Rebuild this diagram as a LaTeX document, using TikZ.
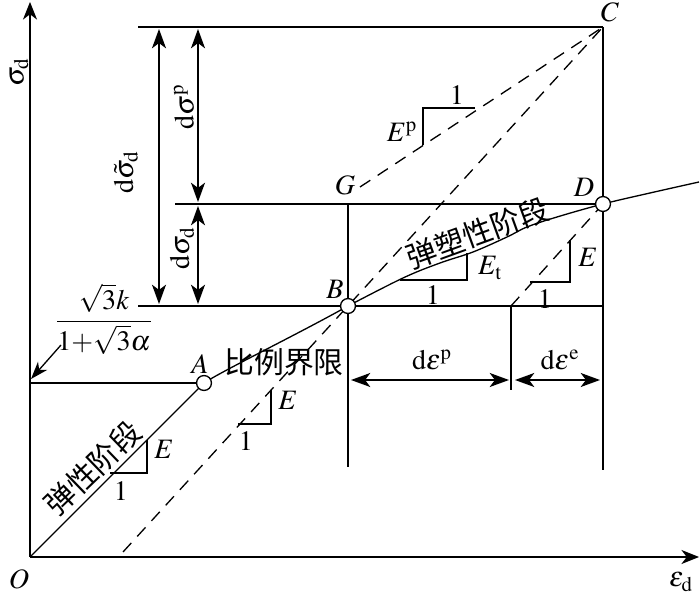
\documentclass[tikz,border=0pt]{standalone}
\usepackage{amsmath,amssymb}
\usepackage{mathptmx}
\usepackage{fontspec}
\setmainfont{Liberation Serif}
\newfontfamily\cjk{Noto Sans CJK SC}
\usetikzlibrary{arrows.meta,positioning}

\begin{document}
\begin{tikzpicture}[x=0.02cm, y=-0.02cm, line width=0.75pt,
	>={Stealth[length=11pt,width=8pt,inset=3pt]},
	every node/.style={font=\fontsize{16}{18}\selectfont},
	pt/.style={draw, circle, fill=white, inner sep=0pt, minimum size=8.5pt, line width=0.75pt},
	zh/.style={font=\fontsize{17}{19}\selectfont\cjk, inner sep=1pt},
	slope/.style={line width=0.75pt},
	dash line/.style={dash pattern=on 7pt off 5pt}]
	\useasboundingbox (0,0) rectangle (700,597);
	% points
	\coordinate (O) at (30,557);
	\coordinate (ytop) at (30,2);
	\coordinate (xend) at (699,557);
	\coordinate (pA) at (204,383);
	\coordinate (pB) at (348,306);
	\coordinate (pC) at (603,27);
	\coordinate (pD) at (603,204);
	\coordinate (pG) at (360,187);
	\coordinate (pF) at (511,306);
	\coordinate (e0) at (123,552);
	\coordinate (top0) at (138,27);
	\coordinate (mid0) at (175,204);
	\coordinate (low0) at (138,306);
	\coordinate (low1) at (603,306);
	\coordinate (ya) at (30,383);
	\coordinate (vB0) at (348,204);
	\coordinate (vB1) at (348,467);
	\coordinate (vC1) at (603,470);
	\coordinate (vF1) at (511,390);
	% axes
	\draw[->,>={Stealth[length=10pt,width=8pt,inset=3pt]}] (O) -- (ytop);
	\draw[->,>={Stealth[length=10pt,width=8pt,inset=3pt]}] (O) -- (xend);
	% guide lines
	\draw (top0) -- (pC);
	\draw (mid0) -- (pD);
	\draw (low0) -- (low1);
	\draw (ya) -- (pA);
	\draw (vB0) -- (vB1);
	\draw (pC) -- (vC1);
	\draw (pF) -- (vF1);
	% curve
	\draw (O) -- (pA);
	\draw (pA) .. controls (222,371) and (300,333) .. (pB);
	\draw plot[smooth, tension=0.6] coordinates {(348,306) (403,278) (440,263) (473,252) (507,237) (527,227) (557,217) (603,204) (650,193) (699,182)};
	% dashed lines
	\draw[dash line] (e0) -- (pC);
	\draw[dash line] (pG) -- (pC);
	\draw[dash line] (pF) -- (pD);
	% slope triangles
	\draw[slope] (110,473) -- (147,473) -- (147,440);
	\draw[slope] (238,424) -- (271,424) -- (271,390);
	\draw[slope] (475,108) -- (423,108) -- (423,145);
	\draw[slope] (400,280) -- (467,280) -- (467,253);
	\draw[slope] (530,282) -- (570,282) -- (570,240);
	\node (E1) at (164,449) {$E$};
	\node (one1) at (121,491) {$1$};
	\node (E2) at (288,400) {$E$};
	\node (one2) at (246,441) {$1$};
	\node (Ep) at (402,132) {$E^{\mathrm{p}}$};
	\node (one3) at (457,95) {$1$};
	\node (Et) at (490,268) {$E_{\mathrm{t}}$};
	\node (one4) at (433,295) {$1$};
	\node (E3) at (588,257) {$E$};
	\node (one5) at (545,299) {$1$};
	% dimension arrows
	\coordinate (s0) at (159,29);
	\coordinate (s1) at (159,304);
	\coordinate (p0) at (198,29);
	\coordinate (p1) at (198,202);
	\coordinate (q0) at (198,206);
	\coordinate (q1) at (198,304);
	\coordinate (h0) at (351,380);
	\coordinate (h1) at (509,380);
	\coordinate (h2) at (515,380);
	\coordinate (h3) at (600,380);
	\draw[<->] (s0) -- (s1);
	\draw[<->] (p0) -- (p1);
	\draw[<->] (q0) -- (q1);
	\draw[<->] (h0) -- (h1);
	\draw[<->] (h2) -- (h3);
	\node[rotate=90] (dst) at (126,172) {$\mathrm{d}\tilde{\sigma}_{\mathrm{d}}$};
	\node[rotate=90] (dsp) at (184,107) {$\mathrm{d}\sigma^{\mathrm{p}}$};
	\node[rotate=90] (dsd) at (182,248) {$\mathrm{d}\sigma_{\mathrm{d}}$};
	\node (dep) at (432,360) {$\mathrm{d}\varepsilon^{\mathrm{p}}$};
	\node (dee) at (560,360) {$\mathrm{d}\varepsilon^{\mathrm{e}}$};
	% yield value
	\node (frac) at (104,319) {$\dfrac{\sqrt{3}k}{1{+}\sqrt{3}\alpha}$};
	\coordinate (fa) at (61,345);
	\coordinate (fb) at (31,379);
	\draw[->,>={Stealth[length=10pt,width=7pt,inset=3pt]}] (fa) -- (fb);
	% stage texts
	\node[zh, rotate=44] (el) at (93,468) {弹性阶段};
	\node[zh] (pl) at (284,362) {比例界限};
	\node[zh, rotate=20] (ep) at (478,233) {弹塑性阶段};
	% point markers and labels
	\node[pt] (A) at (pA) {};
	\node[pt] (B) at (pB) {};
	\node[pt] (D) at (pD) {};
	\node (lA) at (200,364) {$A$};
	\node (lB) at (335,289) {$B$};
	\node (lC) at (610,12) {$C$};
	\node (lD) at (584,187) {$D$};
	\node (lG) at (345,185) {$G$};
	\node (lO) at (19,579) {$O$};
	\node (lx) at (681,582) {$\varepsilon_{\mathrm{d}}$};
	\node[rotate=90, inner sep=0pt] (ly) at (19,72) {$\sigma_{\mathrm{d}}$};
\end{tikzpicture}
\end{document}
